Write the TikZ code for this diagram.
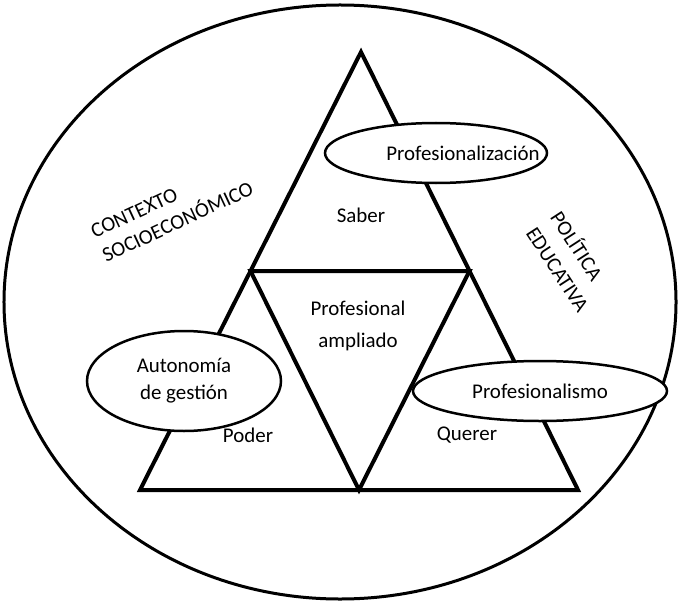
\documentclass[tikz,border=0pt]{standalone}
\usepackage{fontspec}
\setmainfont{Carlito}
\usetikzlibrary{shapes.geometric, calc}
\newcommand{\scale}{1}

\begin{document}
\begin{tikzpicture}[x = \scale bp, y = -\scale bp, font = \fontsize{21}{27}\selectfont,
  oval/.style = {draw, ellipse, fill = white, line width = 2.5bp, inner sep = 0pt}]
\useasboundingbox (0,0) rectangle (679,604);
\node[draw, ellipse, line width = 3bp, minimum width = 672bp, minimum height = 594bp] (ctx) at (340,302) {};
\coordinate (top) at (361,52);
\coordinate (bl) at (140,490);
\coordinate (br) at (578,490);
\coordinate (ml) at ($(top)!0.5!(bl)$);
\coordinate (mr) at ($(top)!0.5!(br)$);
\coordinate (mb) at ($(bl)!0.5!(br)$);
\draw [line width = 4bp, line join = miter] (top) -- (bl) -- (br) -- cycle;
\draw [line width = 4bp, line join = miter] (ml) -- (mr) -- (mb) -- cycle;
\node (v1) at (361,215) {Saber};
\node[align = center, font = \fontsize{21}{32}\selectfont] (v2) at (358,326) {Profesional\\ampliado};
\node (v3) at (248,435) {Poder};
\node (v4) at (467,435) {Querer};
\node[oval, minimum width = 222bp, minimum height = 60bp] (e1) at (436,153) {};
\node (t1) at (463,153) {Profesionalización};
\node[oval, minimum width = 194bp, minimum height = 100bp, align = center] (e2) at (184,381) {Autonomía\\de gestión};
\node[oval, minimum width = 254bp, minimum height = 60bp] (e3) at (540,391) {Profesionalismo};
\node[rotate = 25, align = left] (c1) at (172,210) {CONTEXTO\\SOCIOECONÓMICO};
\node[rotate = -57, align = left, font = \fontsize{21}{29}\selectfont] (c2) at (571,261) {POLÍTICA\\EDUCATIVA};
\end{tikzpicture}
\end{document}
